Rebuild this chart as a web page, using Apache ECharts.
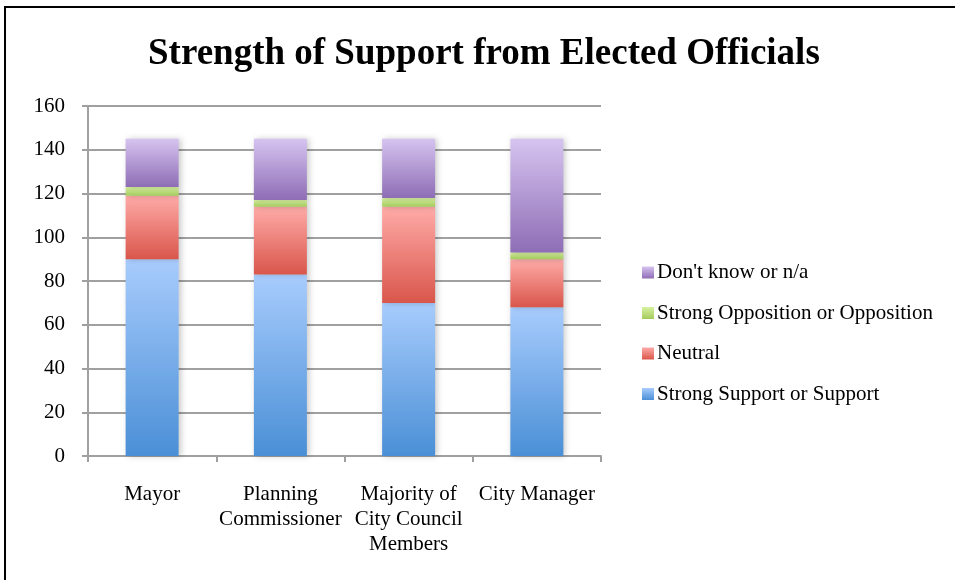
<!DOCTYPE html>
<html>
<head>
<meta charset="utf-8">
<script src="https://cdn.jsdelivr.net/npm/echarts@6/dist/echarts.min.js"></script>
<style>
  html, body { margin: 0; padding: 0; background: #fff; }
  #chart { width: 955px; height: 580px; }
</style>
</head>
<body>
<div id="chart"></div>
<script>
// Survey responses by official type (stacked counts)
const categories = ['Mayor', 'Planning\nCommissioner', 'Majority of\nCity Council\nMembers', 'City Manager'];
const supportValues = [90, 83, 70, 68];
const neutralValues = [29, 31, 44, 22];
const oppositionValues = [4, 3, 4, 3];
const dontKnowValues = [22, 28, 27, 52];
const yTicks = [0, 20, 40, 60, 80, 100, 120, 140, 160];

const FONT = '"Liberation Serif", "Times New Roman", serif';

function grad(top, bottom) {
  return new echarts.graphic.LinearGradient(0, 0, 0, 1, [
    { offset: 0, color: top },
    { offset: 1, color: bottom }
  ]);
}

function barSeries(name, data, top, bottom) {
  return {
    name: name,
    type: 'bar',
    stack: 'total',
    data: data,
    barWidth: 53,
    itemStyle: {
      color: grad(top, bottom),
      shadowColor: 'rgba(0,0,0,0.22)',
      shadowBlur: 6,
      shadowOffsetX: 2,
      shadowOffsetY: 0
    },
    emphasis: { disabled: true }
  };
}

const chart = echarts.init(document.getElementById('chart'), null, { renderer: 'canvas' });

chart.setOption({
  backgroundColor: '#ffffff',
  animation: false,
  title: {
    text: 'Strength of Support from Elected Officials',
    left: 143,
    top: 31,
    textStyle: { fontFamily: FONT, fontSize: 37, fontWeight: 'bold', color: '#000' }
  },
  graphic: [{
    type: 'rect',
    shape: { x: 5, y: 7, width: 980, height: 620 },
    style: { fill: 'none', stroke: '#000', lineWidth: 2 },
    silent: true,
    z: 100
  }],
  legend: {
    orient: 'vertical',
    left: 637,
    top: 257,
    itemWidth: 12,
    itemHeight: 12,
    itemGap: 19.5,
    icon: 'rect',
    data: ["Don't know or n/a", 'Strong Opposition or Opposition', 'Neutral', 'Strong Support or Support'],
    textStyle: { fontFamily: FONT, fontSize: 21, color: '#000', padding: [0, 0, 0, -2] }
  },
  grid: { left: 88, top: 106, right: 354, bottom: 124 },
  xAxis: {
    type: 'category',
    data: categories,
    boundaryGap: true,
    axisLine: { show: true, lineStyle: { color: '#a0a0a0', width: 2 } },
    axisTick: { show: true, length: 6, alignWithLabel: false, lineStyle: { color: '#a0a0a0', width: 2 } },
    axisLabel: {
      fontFamily: FONT, fontSize: 21, color: '#000', margin: 26, lineHeight: 25,
      interval: 0
    }
  },
  yAxis: {
    type: 'value',
    min: yTicks[0],
    max: yTicks[yTicks.length - 1],
    interval: yTicks[1] - yTicks[0],
    axisLine: { show: true, lineStyle: { color: '#a0a0a0', width: 2 } },
    axisTick: { show: true, length: 6, lineStyle: { color: '#a0a0a0', width: 2 } },
    splitLine: { show: true, lineStyle: { color: '#a0a0a0', width: 2 } },
    axisLabel: { fontFamily: FONT, fontSize: 21, color: '#000', margin: 23 }
  },
  series: [
    barSeries('Strong Support or Support', supportValues, '#a8ccfd', '#4a8fd6'),
    barSeries('Neutral', neutralValues, '#ffaba8', '#d9564b'),
    barSeries('Strong Opposition or Opposition', oppositionValues, '#d8f2a2', '#a4cb5c'),
    barSeries("Don't know or n/a", dontKnowValues, '#d6c4f0', '#8e6db5')
  ]
});
</script>
</body>
</html>
